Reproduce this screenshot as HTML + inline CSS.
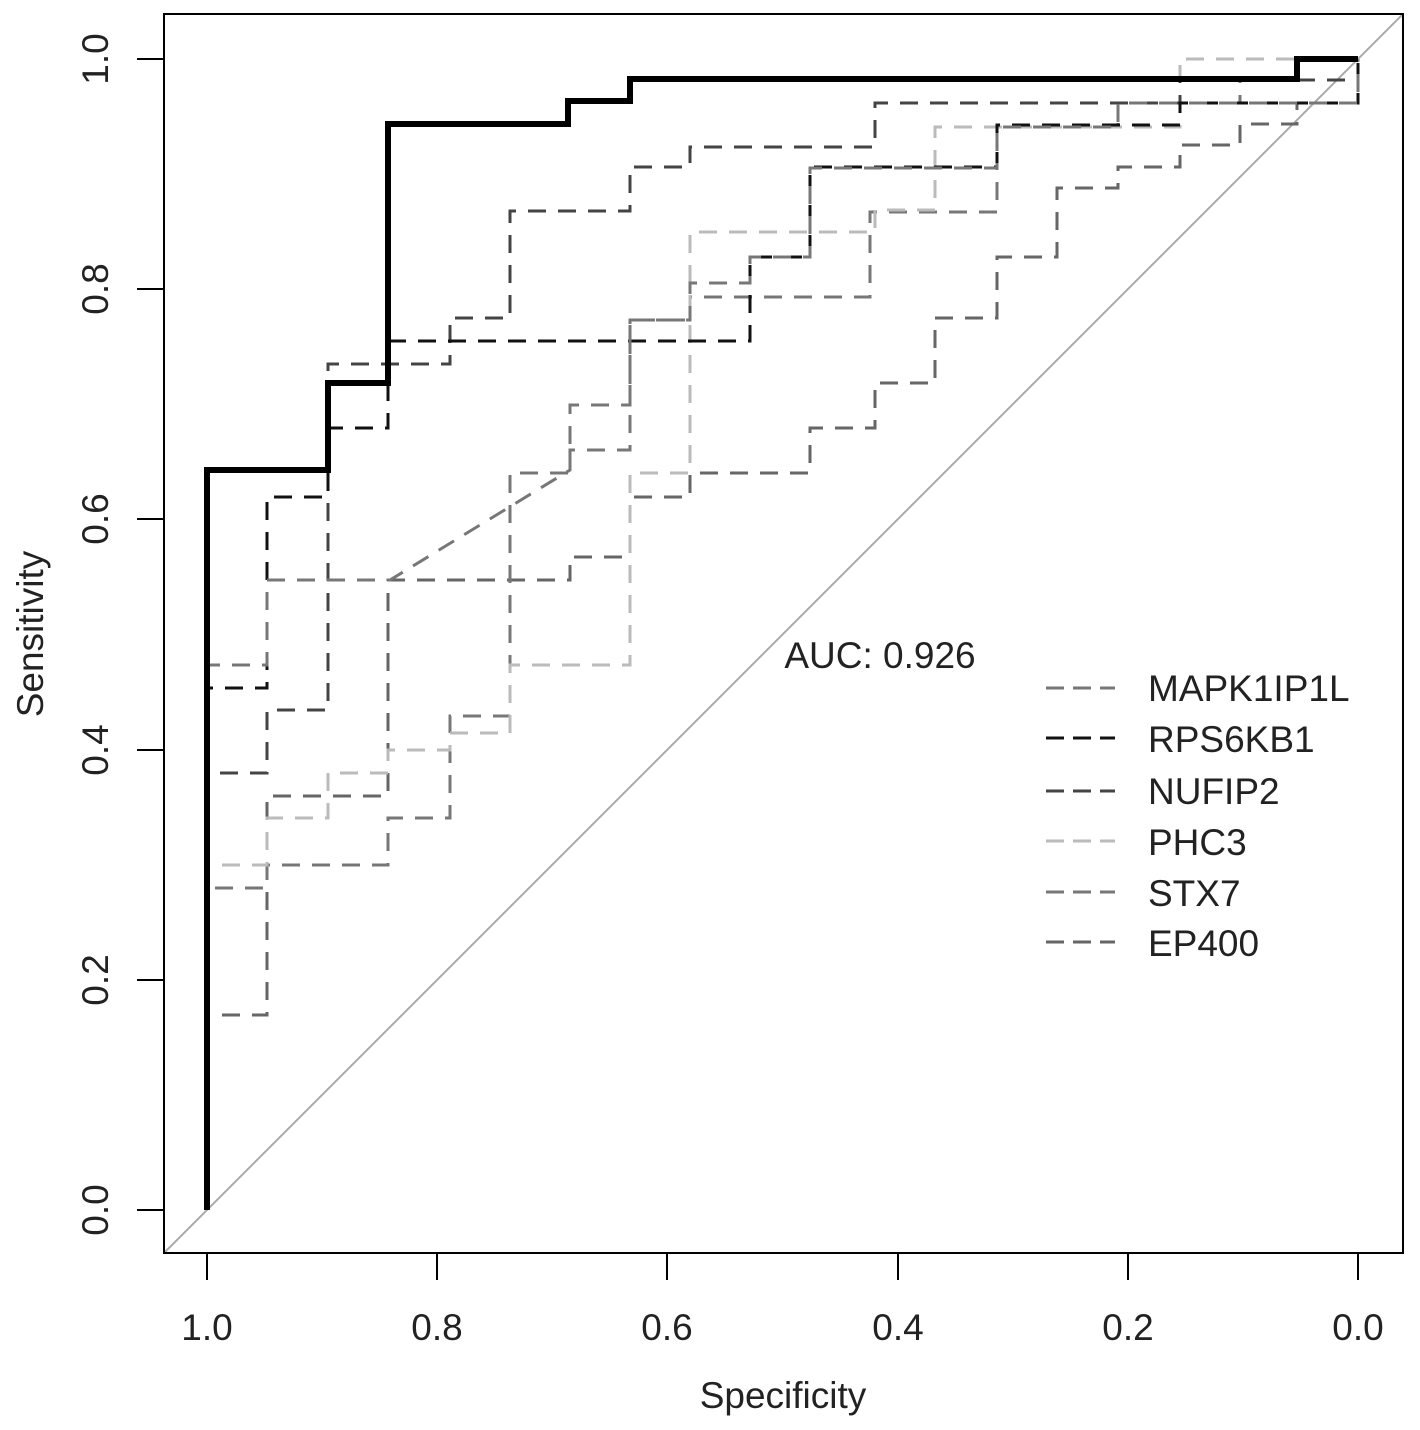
<!DOCTYPE html>
<html><head><meta charset="utf-8"><style>html,body{margin:0;padding:0;background:#fff}svg{display:block}</style></head><body>
<svg width="1420" height="1430" xmlns="http://www.w3.org/2000/svg" font-family="Liberation Sans, sans-serif">
<rect width="1420" height="1430" fill="#fff"/>
<line x1="164" y1="1253" x2="1403" y2="14" stroke="#aaa" stroke-width="2"/>
<g fill="none" stroke-width="3" stroke-dasharray="18,12">
<path stroke="#666" d="M207,1210 V1015 H267 V796 H388 V580 H570 V557 H630 V497 H690 V473 H810 V428 H875 V383 H935 V318 H997 V257 H1057 V188 H1118 V167 H1180 V145 H1240 V124 H1297 V103 H1358 V59"/>
<path stroke="#777" d="M207,1210 V888 H267 V865 H388 V818 H450 V716 H510 V473 H570 V450 H630 V320 H690 V297 H870 V212 H997 V127 H1118 V103 H1240 V80 H1358 V59"/>
<path stroke="#bbb" d="M207,1210 V865 H267 V818 H328 V773 H388 V750 H450 V733 H510 V665 H630 V473 H690 V232 H875 V210 H935 V127 H1180 V59 H1358"/>
<path stroke="#444" d="M207,1210 V773 H267 V710 H328 V364 H450 V318 H510 V211 H630 V167 H690 V147 H875 V103 H1180 V80 H1358 V59"/>
<path stroke="#111" d="M207,1210 V688 H267 V497 H328 V428 H388 V341 H750 V257 H810 V167 H997 V125 H1180 V103 H1358 V59"/>
<path stroke="#777" d="M207,1210 V665 H267 V580 H390 L570,470 V405 H630 V320 H690 V283 H750 V257 H810 V168 H997 V127 H1118 V103 H1358 V59"/>
</g>
<path fill="none" stroke="#000" stroke-width="6" d="M207,1210 V470 H328 V383 H388 V124 H568 V101 H630 V79 H1297 V59 H1358"/>
<rect x="164" y="14" width="1239" height="1239" fill="none" stroke="#000" stroke-width="2"/>
<g stroke="#000" stroke-width="2">
<line x1="207" y1="1253" x2="207" y2="1280"/><line x1="437" y1="1253" x2="437" y2="1280"/><line x1="667" y1="1253" x2="667" y2="1280"/><line x1="898" y1="1253" x2="898" y2="1280"/><line x1="1128" y1="1253" x2="1128" y2="1280"/><line x1="1358" y1="1253" x2="1358" y2="1280"/>
<line x1="137" y1="1210" x2="164" y2="1210"/><line x1="137" y1="980" x2="164" y2="980"/><line x1="137" y1="750" x2="164" y2="750"/><line x1="137" y1="519" x2="164" y2="519"/><line x1="137" y1="289" x2="164" y2="289"/><line x1="137" y1="59" x2="164" y2="59"/>
</g>
<g font-size="37" fill="#222" text-anchor="middle">
<text x="207" y="1340">1.0</text><text x="437" y="1340">0.8</text><text x="667" y="1340">0.6</text><text x="898" y="1340">0.4</text><text x="1128" y="1340">0.2</text><text x="1358" y="1340">0.0</text>
<text transform="translate(108,1210) rotate(-90)">0.0</text>
<text transform="translate(108,980) rotate(-90)">0.2</text>
<text transform="translate(108,750) rotate(-90)">0.4</text>
<text transform="translate(108,519) rotate(-90)">0.6</text>
<text transform="translate(108,289) rotate(-90)">0.8</text>
<text transform="translate(108,59) rotate(-90)">1.0</text>
<text x="783" y="1408">Specificity</text>
<text transform="translate(43,634) rotate(-90)">Sensitivity</text>
<text x="880" y="668">AUC: 0.926</text>
</g>
<g fill="none" stroke-width="3" stroke-dasharray="18,9">
<line x1="1046" y1="688" x2="1115" y2="688" stroke="#777"/>
<line x1="1046" y1="738" x2="1115" y2="738" stroke="#111"/>
<line x1="1046" y1="791" x2="1115" y2="791" stroke="#444"/>
<line x1="1046" y1="841" x2="1115" y2="841" stroke="#bbb"/>
<line x1="1046" y1="892" x2="1115" y2="892" stroke="#777"/>
<line x1="1046" y1="942" x2="1115" y2="942" stroke="#666"/>
</g>
<g font-size="37" fill="#222">
<text x="1148" y="701">MAPK1IP1L</text>
<text x="1148" y="752">RPS6KB1</text>
<text x="1148" y="804">NUFIP2</text>
<text x="1148" y="855">PHC3</text>
<text x="1148" y="906">STX7</text>
<text x="1148" y="956">EP400</text>
</g>
</svg>
</body></html>
